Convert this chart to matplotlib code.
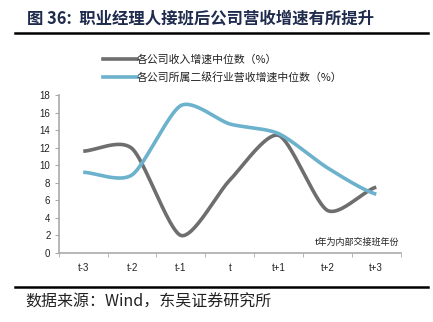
import numpy as np
import matplotlib.pyplot as plt
from matplotlib.lines import Line2D

plt.rcParams['font.family'] = ['Noto Sans CJK SC', 'DejaVu Sans']

# === Données ===
periods = ["t-3", "t-2", "t-1", "t", "t+1", "t+2", "t+3"]
revenue_growth = [11.6, 11.9, 2.0, 8.3, 13.4, 4.85, 7.5]     # 各公司收入增速中位数
industry_growth = [9.2, 8.9, 16.8, 14.7, 13.6, 9.7, 6.7]    # 所属二级行业营收增速中位数

gray = "#6e6e6e"
blue = "#6cb2cd"


def smooth(xs, ys, n=40, k=0.75):
    # courbe lissée (Hermite, tangentes type Catmull-Rom atténuées par k)
    xs = np.asarray(xs, float)
    ys = np.asarray(ys, float)
    px = np.concatenate([[2 * xs[0] - xs[1]], xs, [2 * xs[-1] - xs[-2]]])
    py = np.concatenate([[ys[0]], ys, [ys[-1]]])
    out_x, out_y = [], []
    t = np.linspace(0, 1, n, endpoint=False)
    h00 = 2 * t ** 3 - 3 * t ** 2 + 1
    h10 = t ** 3 - 2 * t ** 2 + t
    h01 = -2 * t ** 3 + 3 * t ** 2
    h11 = t ** 3 - t ** 2
    for i in range(1, len(px) - 2):
        for p, out in ((px, out_x), (py, out_y)):
            m1 = k * 0.5 * (p[i + 1] - p[i - 1])
            m2 = k * 0.5 * (p[i + 2] - p[i])
            out.extend(h00 * p[i] + h10 * m1 + h01 * p[i + 1] + h11 * m2)
    out_x.append(xs[-1])
    out_y.append(ys[-1])
    return out_x, out_y


fig = plt.figure(figsize=(4.33, 3.22), dpi=100)
ax = fig.add_axes([0.1358, 0.2143, 0.7896, 0.4907])

x = np.arange(len(periods))
sx, sy = smooth(x, revenue_growth)
ax.plot(sx, sy, color=gray, lw=2.6, solid_capstyle='butt')
sx, sy = smooth(x, industry_growth)
ax.plot(sx, sy, color=blue, lw=2.6, solid_capstyle='butt')

ax.set_xlim(-0.5, len(periods) - 0.5)
ax.set_ylim(0, 18)
ax.set_yticks(range(0, 19, 2))
ax.set_xticks(x)
ax.set_xticklabels(periods)
ax.set_xticks(np.arange(-0.5, len(periods)), minor=True)
ax.tick_params(axis='x', which='major', length=0, pad=7, labelsize=7, labelcolor='#222222')
ax.tick_params(axis='x', which='minor', length=3, color='#aaaaaa', direction='out')
ax.tick_params(axis='y', length=3, color='#aaaaaa', labelsize=7, labelcolor='#222222', pad=3)
for lab in ax.get_xticklabels() + ax.get_yticklabels():
    lab.set_family(['Liberation Sans', 'DejaVu Sans'])
for s in ['top', 'right']:
    ax.spines[s].set_visible(False)
for s in ['left', 'bottom']:
    ax.spines[s].set_color('#aaaaaa')
    ax.spines[s].set_linewidth(1.2)

ax.text(0.995, 0.04, "t年为内部交接班年份", transform=ax.transAxes,
        ha='right', va='bottom', fontsize=6.5, color='#222222')

# légende en haut
handles = [Line2D([], [], color=gray, lw=2.6), Line2D([], [], color=blue, lw=2.6)]
fig.legend(handles, ["各公司收入增速中位数（%）", "各公司所属二级行业营收增速中位数（%）"],
           loc='upper left', bbox_to_anchor=(0.238, 0.83), frameon=False,
           fontsize=7.8, handlelength=3.1, handletextpad=0.05, labelspacing=0.6,
           borderaxespad=0, borderpad=0, labelcolor='#222222')

# titre et source
fig.text(0.063, 0.943, "图 36:  职业经理人接班后公司营收增速有所提升", fontsize=11.8,
         fontweight='bold', color='#1f2b4d', va='center', ha='left')
fig.add_artist(Line2D([0.035, 0.988], [0.897, 0.897], color='black', lw=1.8,
                      transform=fig.transFigure))
fig.add_artist(Line2D([0.035, 0.988], [0.108, 0.108], color='black', lw=1.8,
                      transform=fig.transFigure))
fig.text(0.058, 0.062, "数据来源：Wind，东吴证券研究所", fontsize=11.5,
         color='#222222', va='center', ha='left')

fig.savefig("out.png", dpi=100)
